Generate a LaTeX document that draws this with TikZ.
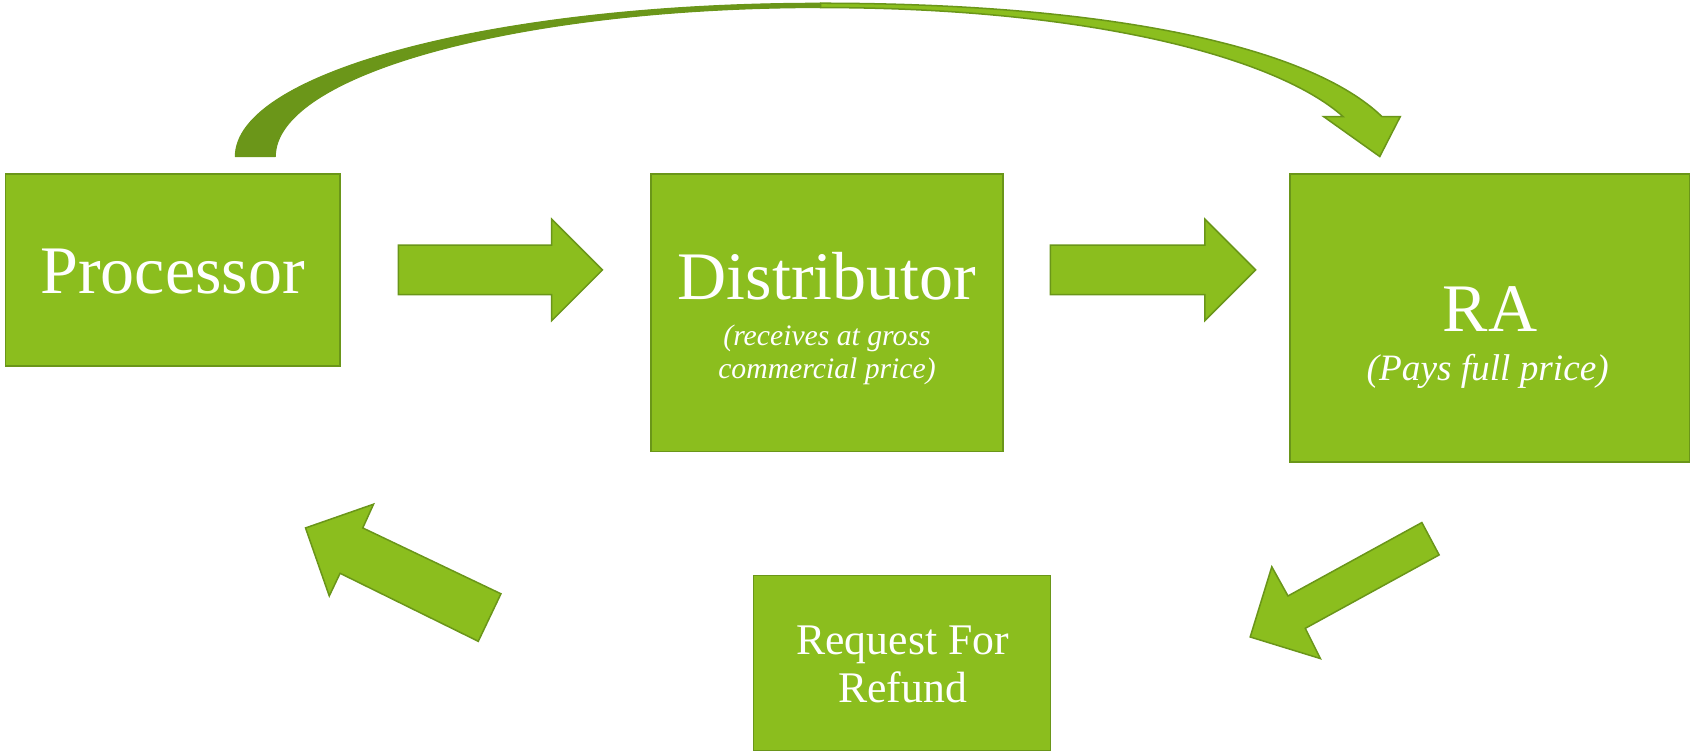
\documentclass[tikz,border=0pt]{standalone}
\usepackage{fontspec}
\setmainfont{Liberation Serif}
\definecolor{boxfill}{HTML}{8BBE1E}
\definecolor{boxline}{HTML}{6A9619}
\definecolor{darkarrow}{HTML}{6B9619}
\tikzset{
  box/.style={draw=boxline, line width=1.4pt, fill=boxfill},
  blockarrow/.style={draw=boxline, line width=1.4pt, fill=boxfill, line join=miter},
  bigtxt/.style={text=white, font=\fontsize{63}{70}\selectfont, inner sep=0pt, anchor=base},
  subtxt/.style={text=white, font=\itshape\fontsize{27.5}{31}\selectfont, inner sep=0pt, anchor=base},
  ratxt/.style={text=white, font=\itshape\fontsize{34.5}{40}\selectfont, inner sep=0pt, anchor=base},
  reftxt/.style={text=white, font=\fontsize{40.5}{45}\selectfont, inner sep=0pt, anchor=base},
}
\begin{document}
\begin{tikzpicture}[x=1pt, y=-1pt]
\useasboundingbox (0,0) rectangle (1570,698);
% boxes
\draw[box] (5,161) rectangle (315,339);
\coordinate (proc) at (160,250);
\draw[box] (603,161) rectangle (929,418);
\coordinate (dist) at (766,289);
\draw[box] (1195,161) rectangle (1565,428);
\coordinate (ra) at (1380,294);
\draw[box] (698,533) rectangle (973,695);
\coordinate (ref) at (836,614);
% texts
\node[bigtxt] (tproc) at (160,272) {Processor};
\node[bigtxt] (tdist) at (766,277) {Distributor};
\node[subtxt] (tdist1) at (766,320) {(receives at gross};
\node[subtxt] (tdist2) at (766,351) {commercial price)};
\node[bigtxt] (tra) at (1380,307) {RA};
\node[ratxt] (tra1) at (1378,352) {(Pays full price)};
\node[reftxt] (tref1) at (836,606) {Request For};
\node[reftxt] (tref2) at (836,651) {Refund};
% straight block arrows
\draw[blockarrow] (369,227) -- (511,227) -- (511,203) -- (558,250) -- (511,297) -- (511,273) -- (369,273) -- cycle;
\draw[blockarrow] (973,227) -- (1116,227) -- (1116,203) -- (1163,250) -- (1116,297) -- (1116,273) -- (973,273) -- cycle;
% diagonal arrows
\draw[blockarrow] (1317,484) -- (1193,552) -- (1178,525) -- (1158,590) -- (1223,610) -- (1209,582) -- (1333,514) -- cycle;
\draw[blockarrow] (464,550) -- (336,489) -- (346,467) -- (283,489) -- (305,552) -- (315,531) -- (443,594) -- cycle;
% curved arrow: back (dark) half
\draw[fill=darkarrow, draw=boxline, line width=1pt, line join=round]
  (218,145) .. controls (218,66.6) and (460.7,3) .. (760,3)
  -- (760,7) .. controls (481.1,7) and (255,68.8) .. (255,145) -- cycle;
% curved arrow: front (light) half with head
\draw[fill=boxfill, draw=boxline, line width=1.4pt, line join=miter]
  (760,3) .. controls (1035,3) and (1215,45) .. (1280,108)
  -- (1297,108) -- (1278,145) -- (1226,108) -- (1244,108)
  .. controls (1185,55) and (1015,7) .. (760,7) -- cycle;
\end{tikzpicture}
\end{document}
